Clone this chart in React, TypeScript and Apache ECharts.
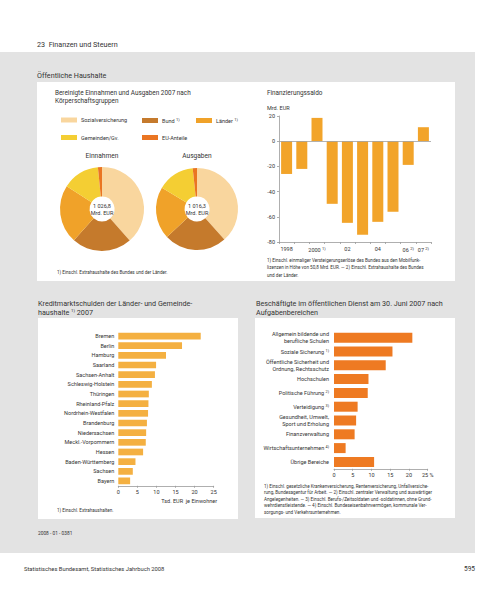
import React, { useEffect, useRef } from 'react';
import * as echarts from 'echarts';

// ---------- data ----------
const pieCategories = ['Sozialversicherung', 'Bund', 'Länder', 'Gemeinden/Gv.', 'EU-Anteile'];
const einnahmen = [396, 237, 231, 147, 16];
const ausgaben = [390, 251, 209, 149, 17];
const einnahmenTotal = '1 026,8';
const ausgabenTotal = '1 016,3';

const saldoYears = ['1998', '1999', '2000', '2001', '2002', '2003', '2004', '2005', '2006', '2007'];
const saldoTickLabels = ['1998', '', '2000 {s|1)}', '', '02', '', '04', '', '06 {s|2)}', '07 {s|2)}'];
const saldoValues = [-26.0, -22.0, 18.5, -49.7, -64.8, -74.3, -64.0, -56.0, -18.8, 11.1];

const laender = [
  'Bremen', 'Berlin', 'Hamburg', 'Saarland', 'Sachsen-Anhalt', 'Schleswig-Holstein', 'Thüringen',
  'Rheinland-Pfalz', 'Nordrhein-Westfalen', 'Brandenburg', 'Niedersachsen', 'Meckl.-Vorpommern',
  'Hessen', 'Baden-Württemberg', 'Sachsen', 'Bayern',
];
const schulden = [21.6, 16.7, 12.5, 9.9, 9.6, 8.8, 8.0, 7.9, 7.8, 7.5, 7.3, 7.2, 6.5, 4.5, 3.8, 3.1];

const bereiche = [
  'Allgemein bildende und\nberufliche Schulen',
  'Soziale Sicherung {s|1)}',
  'Öffentliche Sicherheit und\nOrdnung, Rechtsschutz',
  'Hochschulen',
  'Politische Führung {s|2)}',
  'Verteidigung {s|3)}',
  'Gesundheit, Umwelt,\nSport und Erholung',
  'Finanzverwaltung',
  'Wirtschaftsunternehmen {s|4)}',
  'Übrige Bereiche',
];
const anteile = [20.9, 15.6, 13.8, 9.2, 9.0, 6.3, 5.9, 5.5, 3.1, 10.7];

// ---------- styles ----------
const FONT = 'Roboto, "Noto Sans", sans-serif';
const TXT = '#333333';
const pieColors = ['#F9D69E', '#C57A2C', '#F0A229', '#F4CE33', '#EA7522'];
const supRich = { s: { fontSize: 4, verticalAlign: 'top', fontFamily: FONT, color: TXT, lineHeight: 7 } };

const T = (x: number, y: number, text: string, size: number, extra: any = {}) => ({
  type: 'text',
  x,
  y,
  z: 50,
  silent: true,
  style: {
    text,
    fontSize: size,
    fontFamily: FONT,
    fill: TXT,
    align: 'left',
    verticalAlign: 'middle',
    rich: { s: { fontSize: Math.max(3.5, size * 0.6), verticalAlign: 'top', fontFamily: FONT, fill: TXT } },
    ...extra,
  },
});

const R = (x: number, y: number, w: number, h: number, fill: string) => ({
  type: 'rect',
  z: -10,
  silent: true,
  shape: { x, y, width: w, height: h },
  style: { fill },
});

export default function App() {
  const ref = useRef<HTMLDivElement>(null);

  useEffect(() => {
    document.body.style.margin = '0';
    const chart = echarts.init(ref.current!, null, { renderer: 'svg', width: 500, height: 595 });

    const legendItem = (name: string, left: number, top: number, label?: string) => ({
      data: [name],
      left,
      top,
      padding: 0,
      itemWidth: 16,
      itemHeight: 5,
      icon: 'rect',
      selectedMode: false,
      formatter: () => label ?? name,
      textStyle: { fontSize: 5.5, fontFamily: FONT, color: TXT, padding: [0, 0, 0, -1], rich: supRich },
    });

    const option: any = {
      animation: false,
      backgroundColor: '#ffffff',
      textStyle: { fontFamily: FONT },
      legend: [
        legendItem('Sozialversicherung', 61, 117),
        legendItem('Bund', 142, 117, 'Bund {s|1)}'),
        legendItem('Länder', 196, 117, 'Länder {s|1)}'),
        legendItem('Gemeinden/Gv.', 61, 134.5),
        legendItem('EU-Anteile', 142, 134.5),
      ],
      grid: [
        { left: 279, top: 116, width: 152, height: 126 },
        { left: 118.3, top: 331.2, width: 95.4, height: 154.6 },
        { left: 334, top: 330.8, width: 93.7, height: 138 },
      ],
      xAxis: [
        {
          gridIndex: 0,
          type: 'category',
          data: saldoYears,
          boundaryGap: true,
          axisLine: { onZero: false, lineStyle: { color: '#9a9a9a', width: 0.8 } },
          axisTick: { show: true, length: 2, interval: 0, lineStyle: { color: '#9a9a9a', width: 0.8 } },
          axisLabel: {
            interval: 0,
            fontSize: 5.5,
            color: TXT,
            margin: 4,
            formatter: (_v: string, i: number) => saldoTickLabels[i],
            rich: supRich,
          },
        },
        {
          gridIndex: 1,
          type: 'value',
          min: 0,
          max: 25,
          interval: 5,
          splitLine: { show: false },
          axisLine: { show: true, lineStyle: { color: '#9a9a9a', width: 0.8 } },
          axisTick: { show: true, length: 2, lineStyle: { color: '#9a9a9a', width: 0.8 } },
          axisLabel: { fontSize: 5.5, color: TXT, margin: 3 },
        },
        {
          gridIndex: 2,
          type: 'value',
          min: 0,
          max: 25,
          interval: 5,
          splitLine: { show: false },
          axisLine: { show: true, lineStyle: { color: '#9a9a9a', width: 0.8 } },
          axisTick: { show: true, length: 2, lineStyle: { color: '#9a9a9a', width: 0.8 } },
          axisLabel: {
            fontSize: 5.5,
            color: TXT,
            margin: 3,
            formatter: (v: number) => (v === 25 ? '25 %' : String(v)),
          },
        },
      ],
      yAxis: [
        {
          gridIndex: 0,
          type: 'value',
          min: -80,
          max: 20,
          interval: 20,
          splitLine: { show: false },
          axisLine: { show: true, lineStyle: { color: '#9a9a9a', width: 0.8 } },
          axisTick: { show: true, length: 2, lineStyle: { color: '#9a9a9a', width: 0.8 } },
          axisLabel: { fontSize: 5.5, color: TXT, margin: 4 },
        },
        {
          gridIndex: 1,
          type: 'category',
          data: laender,
          inverse: true,
          axisLine: { show: false },
          axisTick: { show: false },
          axisLabel: { fontSize: 5.5, color: TXT, margin: 4, interval: 0 },
        },
        {
          gridIndex: 2,
          type: 'category',
          data: bereiche,
          inverse: true,
          axisLine: { show: false },
          axisTick: { show: false },
          axisLabel: {
            fontSize: 5.5,
            color: TXT,
            margin: 5,
            interval: 0,
            lineHeight: 7,
            align: 'right',
            rich: { s: { fontSize: 3.8, verticalAlign: 'top', color: TXT, fontFamily: FONT } },
          },
        },
      ],
      series: [
        {
          type: 'pie',
          name: 'Einnahmen',
          center: [102, 209],
          radius: [12.5, 42],
          startAngle: 90,
          clockwise: true,
          color: pieColors,
          label: { show: false },
          labelLine: { show: false },
          emphasis: { disabled: true },
          itemStyle: { borderWidth: 0 },
          data: pieCategories.map((n, i) => ({ name: n, value: einnahmen[i] })),
        },
        {
          type: 'pie',
          name: 'Ausgaben',
          center: [197, 209],
          radius: [12.5, 41],
          startAngle: 90,
          clockwise: true,
          color: pieColors,
          label: { show: false },
          labelLine: { show: false },
          emphasis: { disabled: true },
          itemStyle: { borderWidth: 0 },
          data: pieCategories.map((n, i) => ({ name: n, value: ausgaben[i] })),
        },
        {
          type: 'bar',
          xAxisIndex: 0,
          yAxisIndex: 0,
          data: saldoValues,
          barWidth: 11,
          itemStyle: { color: '#F2A42A' },
          emphasis: { disabled: true },
          markLine: {
            silent: true,
            symbol: 'none',
            label: { show: false },
            lineStyle: { color: '#a0a0a0', width: 0.8, type: 'solid' },
            data: [{ yAxis: 0 }],
          },
        },
        {
          type: 'bar',
          xAxisIndex: 1,
          yAxisIndex: 1,
          data: schulden,
          barWidth: 6.7,
          itemStyle: { color: '#F4B041' },
          emphasis: { disabled: true },
        },
        {
          type: 'bar',
          xAxisIndex: 2,
          yAxisIndex: 2,
          data: anteile,
          barWidth: 10,
          itemStyle: { color: '#EE7A22' },
          emphasis: { disabled: true },
        },
      ],
      graphic: [
        // backgrounds
        R(0, 52, 475, 501, '#E3E3E3'),
        R(37, 82, 418, 199, '#FFFFFF'),
        R(38, 318, 200, 201, '#FFFFFF'),
        R(255, 318, 200, 200, '#FFFFFF'),
        // header
        T(37, 44, '23  Finanzen und Steuern', 7.2),
        T(37, 75, 'Öffentliche Haushalte', 7.2),
        // top-left
        T(55, 92.5, 'Bereinigte Einnahmen und Ausgaben 2007 nach', 6.4),
        T(55, 100.5, 'Körperschaftsgruppen', 6.4),
        T(102, 156, 'Einnahmen', 6.6, { align: 'center' }),
        T(197, 156, 'Ausgaben', 6.6, { align: 'center' }),
        T(102, 209, einnahmenTotal + '\nMrd. EUR', 5.5, { align: 'center', lineHeight: 7 }),
        T(197, 209, ausgabenTotal + '\nMrd. EUR', 5.5, { align: 'center', lineHeight: 7 }),
        T(57, 272, '1) Einschl. Extrahaushalte des Bundes und der Länder.', 4.6),
        // top-right
        T(267, 93, 'Finanzierungssaldo', 6.4),
        T(267, 107.5, 'Mrd. EUR', 5.5),
        T(267, 260, '1) Einschl. einmaliger Versteigerungserlöse des Bundes aus den Mobilfunk-', 4.6),
        T(267, 267.5, 'lizenzen in Höhe von 50,8 Mrd. EUR. — 2) Einschl. Extrahaushalte des Bundes', 4.6),
        T(267, 275, 'und der Länder.', 4.6),
        // bottom-left
        T(38, 303, 'Kreditmarktschulden der Länder- und Gemeinde-', 7.2),
        T(38, 312, 'haushalte {s|1)} 2007', 7.2),
        T(217, 500.5, 'Tsd. EUR  je Einwohner', 5.5, { align: 'right' }),
        T(57, 510, '1) Einschl. Extrahaushalten.', 4.6),
        // bottom-right
        T(256, 303, 'Beschäftigte im öffentlichen Dienst am 30. Juni 2007 nach', 7.2),
        T(256, 312, 'Aufgabenbereichen', 7.2),
        T(264, 486, '1) Einschl. gesetzliche Krankenversicherung, Rentenversicherung, Unfallversiche-', 4.6),
        T(264, 492.5, 'rung, Bundesagentur für Arbeit. — 2) Einschl. zentraler Verwaltung und auswärtiger', 4.6),
        T(264, 499, 'Angelegenheiten. — 3) Einschl. Berufs-/Zeitsoldaten und -soldatinnen, ohne Grund-', 4.6),
        T(264, 505.5, 'wehrdienstleistende. — 4) Einschl. Bundeseisenbahnvermögen, kommunale Ver-', 4.6),
        T(264, 512, 'sorgungs- und Verkehrsunternehmen.', 4.6),
        // footer
        T(38, 533, '2008 - 01 - 0381', 4.8),
        T(24, 569, 'Statistisches Bundesamt, Statistisches Jahrbuch 2008', 5.8),
        T(475, 569, '595', 6.5, { align: 'right' }),
      ],
    };

    chart.setOption(option);
    return () => chart.dispose();
  }, []);

  return <div ref={ref} style={{ width: 500, height: 595, position: 'absolute', left: 0, top: 0 }} />;
}
